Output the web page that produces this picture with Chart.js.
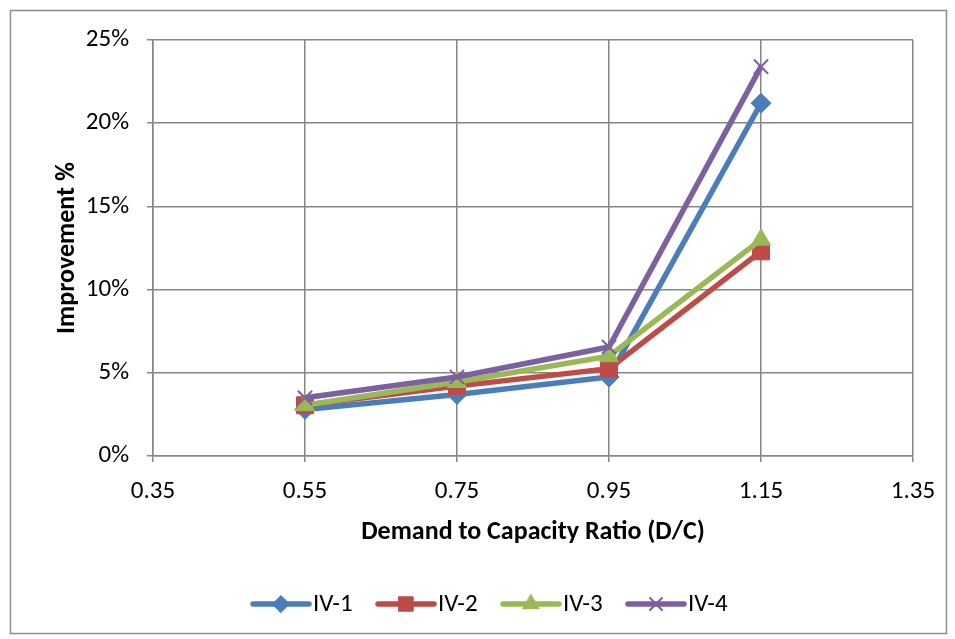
<!DOCTYPE html>
<html>
<head>
<meta charset="utf-8">
<script src="https://cdn.jsdelivr.net/npm/chart.js@4.4.0/dist/chart.umd.min.js"></script>
<style>
  html, body { margin: 0; padding: 0; background: #fff; }
  #wrap { width: 955px; height: 639px; }
</style>
</head>
<body>
<div id="wrap"><canvas id="dcChart" width="955" height="639"></canvas></div>
<script>
// D/C ratios on the x axis
const dcRatios = [0.55, 0.75, 0.95, 1.15];

// improvement (%) per scenario
const iv1 = [2.8, 3.7, 4.75, 21.2];
const iv2 = [3.05, 4.2, 5.25, 12.3];
const iv3 = [3.05, 4.45, 6.0, 13.0];
const iv4 = [3.5, 4.75, 6.55, 23.4];

const seriesNames = ['IV-1', 'IV-2', 'IV-3', 'IV-4'];
const xTicks = [0.35, 0.55, 0.75, 0.95, 1.15, 1.35];
const yTicks = [0, 5, 10, 15, 20, 25];

const FONT = 'Carlito, Calibri, Lato, sans-serif';

function toPoints(vals) {
    return dcRatios.map((x, i) => ({ x: x, y: vals[i] }));
}

function makeSet(label, vals, color, style, radius, order) {
    return {
        label: label,
        data: toPoints(vals),
        showLine: true,
        borderColor: color,
        backgroundColor: color,
        borderWidth: 5.5,
        pointStyle: style,
        pointRadius: radius,
        pointBorderWidth: style === 'crossRot' ? 2 : 1,
        pointBorderColor: color,
        pointBackgroundColor: color,
        order: order
    };
}

// outer frame + legend with line/marker samples, like the office chart
const framePlugin = {
    id: 'frame',
    beforeDraw(chart) {
        const c = chart.ctx;
        c.save();
        c.fillStyle = '#fff';
        c.fillRect(0, 0, chart.width, chart.height);
        c.strokeStyle = '#8c8c8c';
        c.lineWidth = 1.5;
        c.strokeRect(10.5, 10.5, chart.width - 19, chart.height - 16);
        c.restore();
    },
    afterDraw(chart) {
        const c = chart.ctx;
        const y = 604;
        let x = 253;
        chart.data.datasets.forEach(ds => {
            c.save();
            c.strokeStyle = ds.borderColor;
            c.fillStyle = ds.borderColor;
            c.lineWidth = 5.5;
            c.lineCap = 'round';
            c.beginPath();
            c.moveTo(x, y);
            c.lineTo(x + 56, y);
            c.stroke();
            c.lineWidth = ds.pointBorderWidth;
            Chart.helpers.drawPoint(c, {
                pointStyle: ds.pointStyle,
                radius: ds.pointRadius * 0.85,
                borderWidth: ds.pointBorderWidth
            }, x + 28, y);
            c.fillStyle = '#000';
            c.font = '25px ' + FONT;
            c.textBaseline = 'middle';
            c.fillText(ds.label, x + 60, y + 1);
            c.restore();
            x += 125;
        });
    }
};

const ctx = document.getElementById('dcChart').getContext('2d');

new Chart(ctx, {
    type: 'scatter',
    data: {
        datasets: [
            makeSet(seriesNames[0], iv1, '#4A7EBB', 'rectRot', 10, 4),
            makeSet(seriesNames[1], iv2, '#BE4B48', 'rect', 12, 3),
            makeSet(seriesNames[2], iv3, '#98B954', 'triangle', 11, 2),
            makeSet(seriesNames[3], iv4, '#7D60A0', 'crossRot', 10, 1)
        ]
    },
    options: {
        responsive: false,
        animation: false,
        layout: {
            padding: { left: 52, top: 40, right: 42, bottom: 91 }
        },
        plugins: {
            legend: { display: false },
            tooltip: { enabled: false }
        },
        scales: {
            x: {
                type: 'linear',
                min: 0.35,
                max: 1.35,
                afterBuildTicks(scale) {
                    scale.ticks = xTicks.map(v => ({ value: v }));
                },
                afterFit(scale) {
                    scale.height = 92;
                },
                grid: {
                    color: '#868686',
                    lineWidth: 1.5,
                    tickLength: 6,
                    drawTicks: true
                },
                border: { color: '#868686', width: 1.5 },
                ticks: {
                    color: '#000',
                    padding: 15,
                    maxRotation: 0,
                    font: { size: 25, family: FONT },
                    callback: v => v.toFixed(2)
                },
                title: {
                    display: true,
                    text: 'Demand to Capacity Ratio (D/C)',
                    color: '#000',
                    font: { size: 26, family: FONT, weight: 'bold' },
                    padding: { top: 0, bottom: 0 }
                }
            },
            y: {
                min: 0,
                max: 25,
                afterBuildTicks(scale) {
                    scale.ticks = yTicks.map(v => ({ value: v }));
                },
                afterFit(scale) {
                    scale.width = 101;
                },
                grid: {
                    color: '#868686',
                    lineWidth: 1.5,
                    tickLength: 6
                },
                border: { color: '#868686', width: 1.5 },
                ticks: {
                    color: '#000',
                    padding: 18,
                    font: { size: 25, family: FONT },
                    callback: v => v + '%'
                },
                title: {
                    display: true,
                    text: 'Improvement %',
                    color: '#000',
                    font: { size: 26, family: FONT, weight: 'bold' },
                    padding: { top: 0, bottom: 0 }
                }
            }
        }
    },
    plugins: [framePlugin]
});
</script>
</body>
</html>
